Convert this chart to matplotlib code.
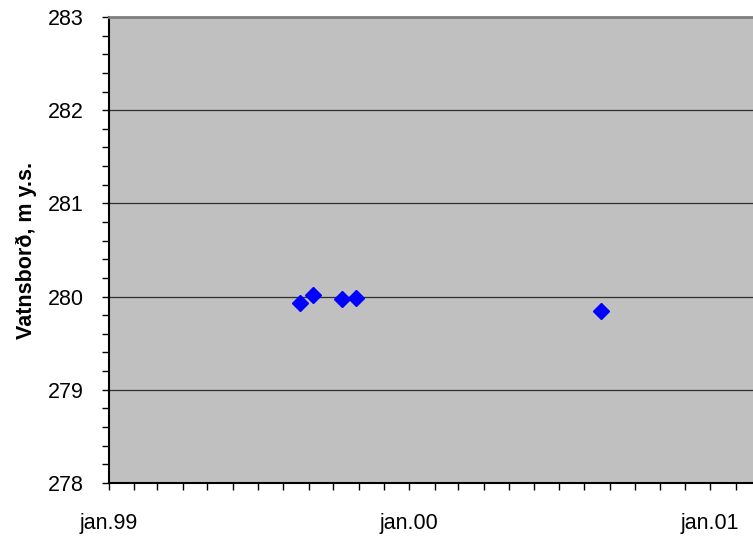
import matplotlib
matplotlib.use("Agg")
import matplotlib.pyplot as plt
import matplotlib.dates as mdates
import pandas as pd

# Measured water level (m above sea level)
dates = pd.to_datetime(["1999-08-22", "1999-09-06", "1999-10-11", "1999-10-28", "2000-08-21"])
levels = [279.93, 280.02, 279.97, 279.98, 279.85]

plt.rcParams["font.family"] = ["Liberation Sans", "DejaVu Sans"]

fig = plt.figure(figsize=(7.53, 5.39), dpi=100)
ax = fig.add_axes([0.1444, 0.104, 0.8556, 0.8645])
ax.set_facecolor("#c0c0c0")

ax.plot(dates, levels, linestyle="none", marker="D", markersize=8.3,
        color="#0000ff", markeredgecolor="#0000ff", zorder=3)

ax.set_ylim(278, 283)
ax.set_yticks([278, 279, 280, 281, 282, 283])
ax.set_yticks([278 + 0.2 * i for i in range(26)], minor=True)
ax.set_xlim(pd.Timestamp("1999-01-01"), pd.Timestamp("2001-02-22"))

ax.xaxis.set_major_locator(mdates.YearLocator())
ax.xaxis.set_minor_locator(mdates.MonthLocator())
ax.xaxis.set_major_formatter(mdates.DateFormatter("jan.%y"))

ax.grid(axis="y", which="major", color="#303030", linewidth=0.9)
ax.set_axisbelow(True)

ax.tick_params(axis="both", which="both", direction="out", length=5, width=1, color="black")
ax.tick_params(axis="y", which="major", labelsize=15.5, pad=13)
ax.tick_params(axis="x", which="major", labelsize=15.5, pad=17)

for side in ["left", "bottom"]:
    ax.spines[side].set_color("black")
    ax.spines[side].set_linewidth(1.5)
ax.spines["top"].set_color("#808080")
ax.spines["top"].set_linewidth(2)
ax.spines["right"].set_visible(False)

ax.set_ylabel("Vatnsborð, m y.s.", fontsize=15.5, fontweight="bold", labelpad=8)

fig.savefig("out.png", dpi=100)
